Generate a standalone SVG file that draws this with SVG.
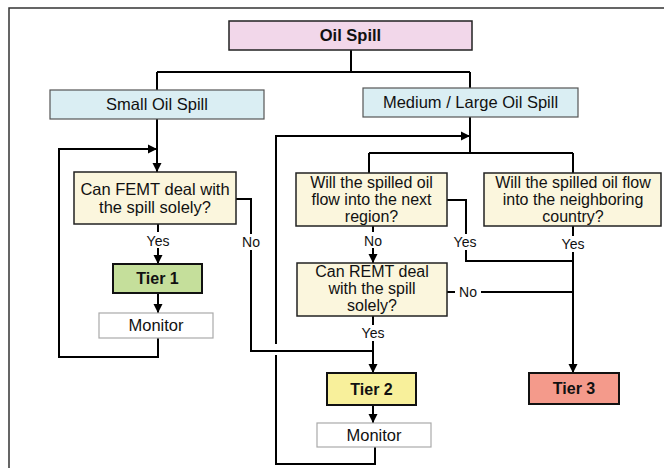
<svg xmlns="http://www.w3.org/2000/svg" width="664" height="468" viewBox="0 0 664 468">
  <style>
    .t { font-family: "Liberation Sans", Arial, sans-serif; font-size: 16.5px; fill: #111; text-anchor: middle; }
    .s { font-size: 16px; }
    .b { font-weight: bold; font-size: 16px; }
    .lbl { font-family: "Liberation Sans", Arial, sans-serif; font-size: 14px; fill: #111; text-anchor: middle; }
    .wire { fill: none; stroke: #000; stroke-width: 2; }
    .q { fill: #FBF6DD; stroke: #222; stroke-width: 1.5; }
    .head { fill: #F2D7EA; stroke: #222; stroke-width: 1.5; }
    .size { fill: #DAEEF3; stroke: #555; stroke-width: 1.2; }
    .tier { stroke: #111; stroke-width: 2; }
    .mon { fill: #fff; stroke: #aaa; stroke-width: 1.2; }
    .halo { fill: #fff; }
  </style>
  <defs>
    <marker id="arrow" markerWidth="10" markerHeight="10" refX="9" refY="5" orient="auto" markerUnits="userSpaceOnUse">
      <path d="M0,0.5 L9,5 L0,9.5 Z" fill="#000"/>
    </marker>
  </defs>

  <rect width="664" height="468" fill="#fff"/>
  <!-- frame -->
  <path d="M9,468 V8 H664" fill="none" stroke="#333" stroke-width="1.5"/>

  <!-- connectors -->
  <g id="connectors">
    <path class="wire" d="M351,50 V72 M157,72 H470 M157,72 V90 M470,72 V88"/>
    <path class="wire" d="M157,119 V172" marker-end="url(#arrow)"/>
    <path class="wire" d="M158,338 V357 H59 V149 H157" marker-end="url(#arrow)"/>
    <path class="wire" d="M158,224 V264" marker-end="url(#arrow)"/>
    <path class="wire" d="M158,293 V313" marker-end="url(#arrow)"/>
    <path class="wire" d="M236,199 H251 V351 H373"/>
    <path class="wire" d="M373,316 V373" marker-end="url(#arrow)"/>
    <path class="wire" d="M470,117 V153 M369,153 H573 M369,153 V173 M573,153 V173"/>
    <path class="wire" d="M373,226 V263" marker-end="url(#arrow)"/>
    <path class="wire" d="M447,200 H466 V261 H573"/>
    <path class="wire" d="M573,226 V373" marker-end="url(#arrow)"/>
    <path class="wire" d="M447,292 H573"/>
    <path class="wire" d="M373,405 V423" marker-end="url(#arrow)"/>
    <path class="wire" d="M375,447 V464 H276 V355"/>
    <path class="wire" d="M276,344 V136 H470" marker-end="url(#arrow)"/>
  </g>

  <!-- branch labels -->
  <g id="labels">
    <rect class="halo" x="144" y="232" width="28" height="16"/>
    <text class="lbl" x="158" y="246">Yes</text>
    <rect class="halo" x="240" y="234" width="22" height="16"/>
    <text class="lbl" x="251" y="247">No</text>
    <rect class="halo" x="362" y="232" width="22" height="16"/>
    <text class="lbl" x="373" y="246">No</text>
    <rect class="halo" x="452" y="234" width="28" height="16"/>
    <text class="lbl" x="465" y="247">Yes</text>
    <rect class="halo" x="559" y="236" width="28" height="16"/>
    <text class="lbl" x="573" y="249">Yes</text>
    <rect class="halo" x="455" y="284" width="26" height="16"/>
    <text class="lbl" x="468" y="297">No</text>
    <rect class="halo" x="359" y="325" width="28" height="16"/>
    <text class="lbl" x="373" y="338">Yes</text>
  </g>

  <g id="oil-spill">
    <rect class="head" x="229" y="21" width="243" height="29"/>
    <text class="t b" x="350.5" y="41" style="font-size:16.5px">Oil Spill</text>
  </g>
  <g id="small-spill">
    <rect class="size" x="50" y="90" width="214" height="29"/>
    <text class="t" x="157" y="110">Small Oil Spill</text>
  </g>
  <g id="large-spill">
    <rect class="size" x="363" y="88" width="215" height="29"/>
    <text class="t" x="470.5" y="108">Medium / Large Oil Spill</text>
  </g>
  <g id="femt">
    <rect class="q" x="74" y="172" width="162" height="52"/>
    <text class="t" x="155" y="195">Can FEMT deal with</text>
    <text class="t" x="155" y="213">the spill solely?</text>
  </g>
  <g id="tier1">
    <rect class="tier" fill="#C5DF9B" x="113" y="264" width="89" height="29"/>
    <text class="t b" x="157.5" y="284">Tier 1</text>
  </g>
  <g id="monitor1">
    <rect class="mon" x="99" y="313" width="114" height="25"/>
    <text class="t" x="156" y="331">Monitor</text>
  </g>
  <g id="next-region">
    <rect class="q" x="296" y="173" width="151" height="53"/>
    <text class="t s" x="371.5" y="188">Will the spilled oil</text>
    <text class="t s" x="371.5" y="205">flow into the next</text>
    <text class="t s" x="371.5" y="222">region?</text>
  </g>
  <g id="neighbor">
    <rect class="q" x="484" y="173" width="177" height="53"/>
    <text class="t s" x="573" y="188">Will the spilled oil flow</text>
    <text class="t s" x="573" y="205">into the neighboring</text>
    <text class="t s" x="573" y="222">country?</text>
  </g>
  <g id="remt">
    <rect class="q" x="297" y="263" width="150" height="53"/>
    <text class="t s" x="372" y="277">Can REMT deal</text>
    <text class="t s" x="372" y="294">with the spill</text>
    <text class="t s" x="372" y="311">solely?</text>
  </g>
  <g id="tier2">
    <rect class="tier" fill="#F8F09B" x="327" y="373" width="89" height="32"/>
    <text class="t b" x="371.5" y="395">Tier 2</text>
  </g>
  <g id="tier3">
    <rect class="tier" fill="#F49A8B" x="529" y="373" width="90" height="31"/>
    <text class="t b" x="574" y="394">Tier 3</text>
  </g>
  <g id="monitor2">
    <rect class="mon" x="317" y="423" width="114" height="24"/>
    <text class="t" x="374" y="441">Monitor</text>
  </g>
</svg>
